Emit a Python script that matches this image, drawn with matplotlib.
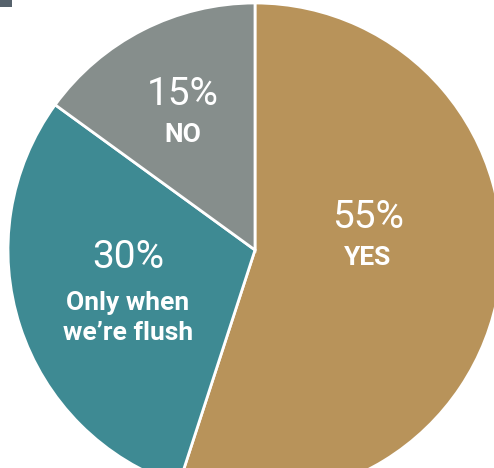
import matplotlib.pyplot as plt
from matplotlib.patches import Rectangle

# answers, clockwise from 12 o'clock
labels = ['YES', 'Only when\nwe\u2019re flush', 'NO']
shares = [55, 30, 15]
colors = ['#B8935A', '#3E8A93', '#868E8C']

W, H = 494, 468

fig = plt.figure(figsize=(W / 100, H / 100), dpi=100)
ax = fig.add_axes([0, 0, 1, 1])
ax.set_aspect('equal')
ax.axis('off')

# pie is bigger than the canvas, cut at right and bottom
cx, cy, r = 255, H - 250, 247
ax.pie(shares, colors=colors, startangle=90, counterclock=False,
       center=(cx, cy), radius=r,
       wedgeprops=dict(edgecolor='white', linewidth=2))
ax.set_xlim(0, W)
ax.set_ylim(0, H)

# little dark corner piece at the top left
ax.add_patch(Rectangle((0, H - 7), 12, 7, color='#56626c', lw=0))

fam = ['Roboto', 'DejaVu Sans']
# (x, baseline of percent, baseline of first label line) in pixels from top
pos = [(368, 228, 265), (128, 268, 310), (183, 105, 142)]
for (x, yp, yl), s, lab in zip(pos, shares, labels):
    ax.text(x, H - yp, f'{s}%', ha='center', va='baseline', color='white',
            fontsize=28, family=fam)
    for i, line in enumerate(lab.split('\n')):
        ax.text(x, H - yl - 30 * i, line, ha='center', va='baseline',
                color='white', fontsize=19, fontweight='bold', family=fam)

fig.savefig('out.png', dpi=100)
